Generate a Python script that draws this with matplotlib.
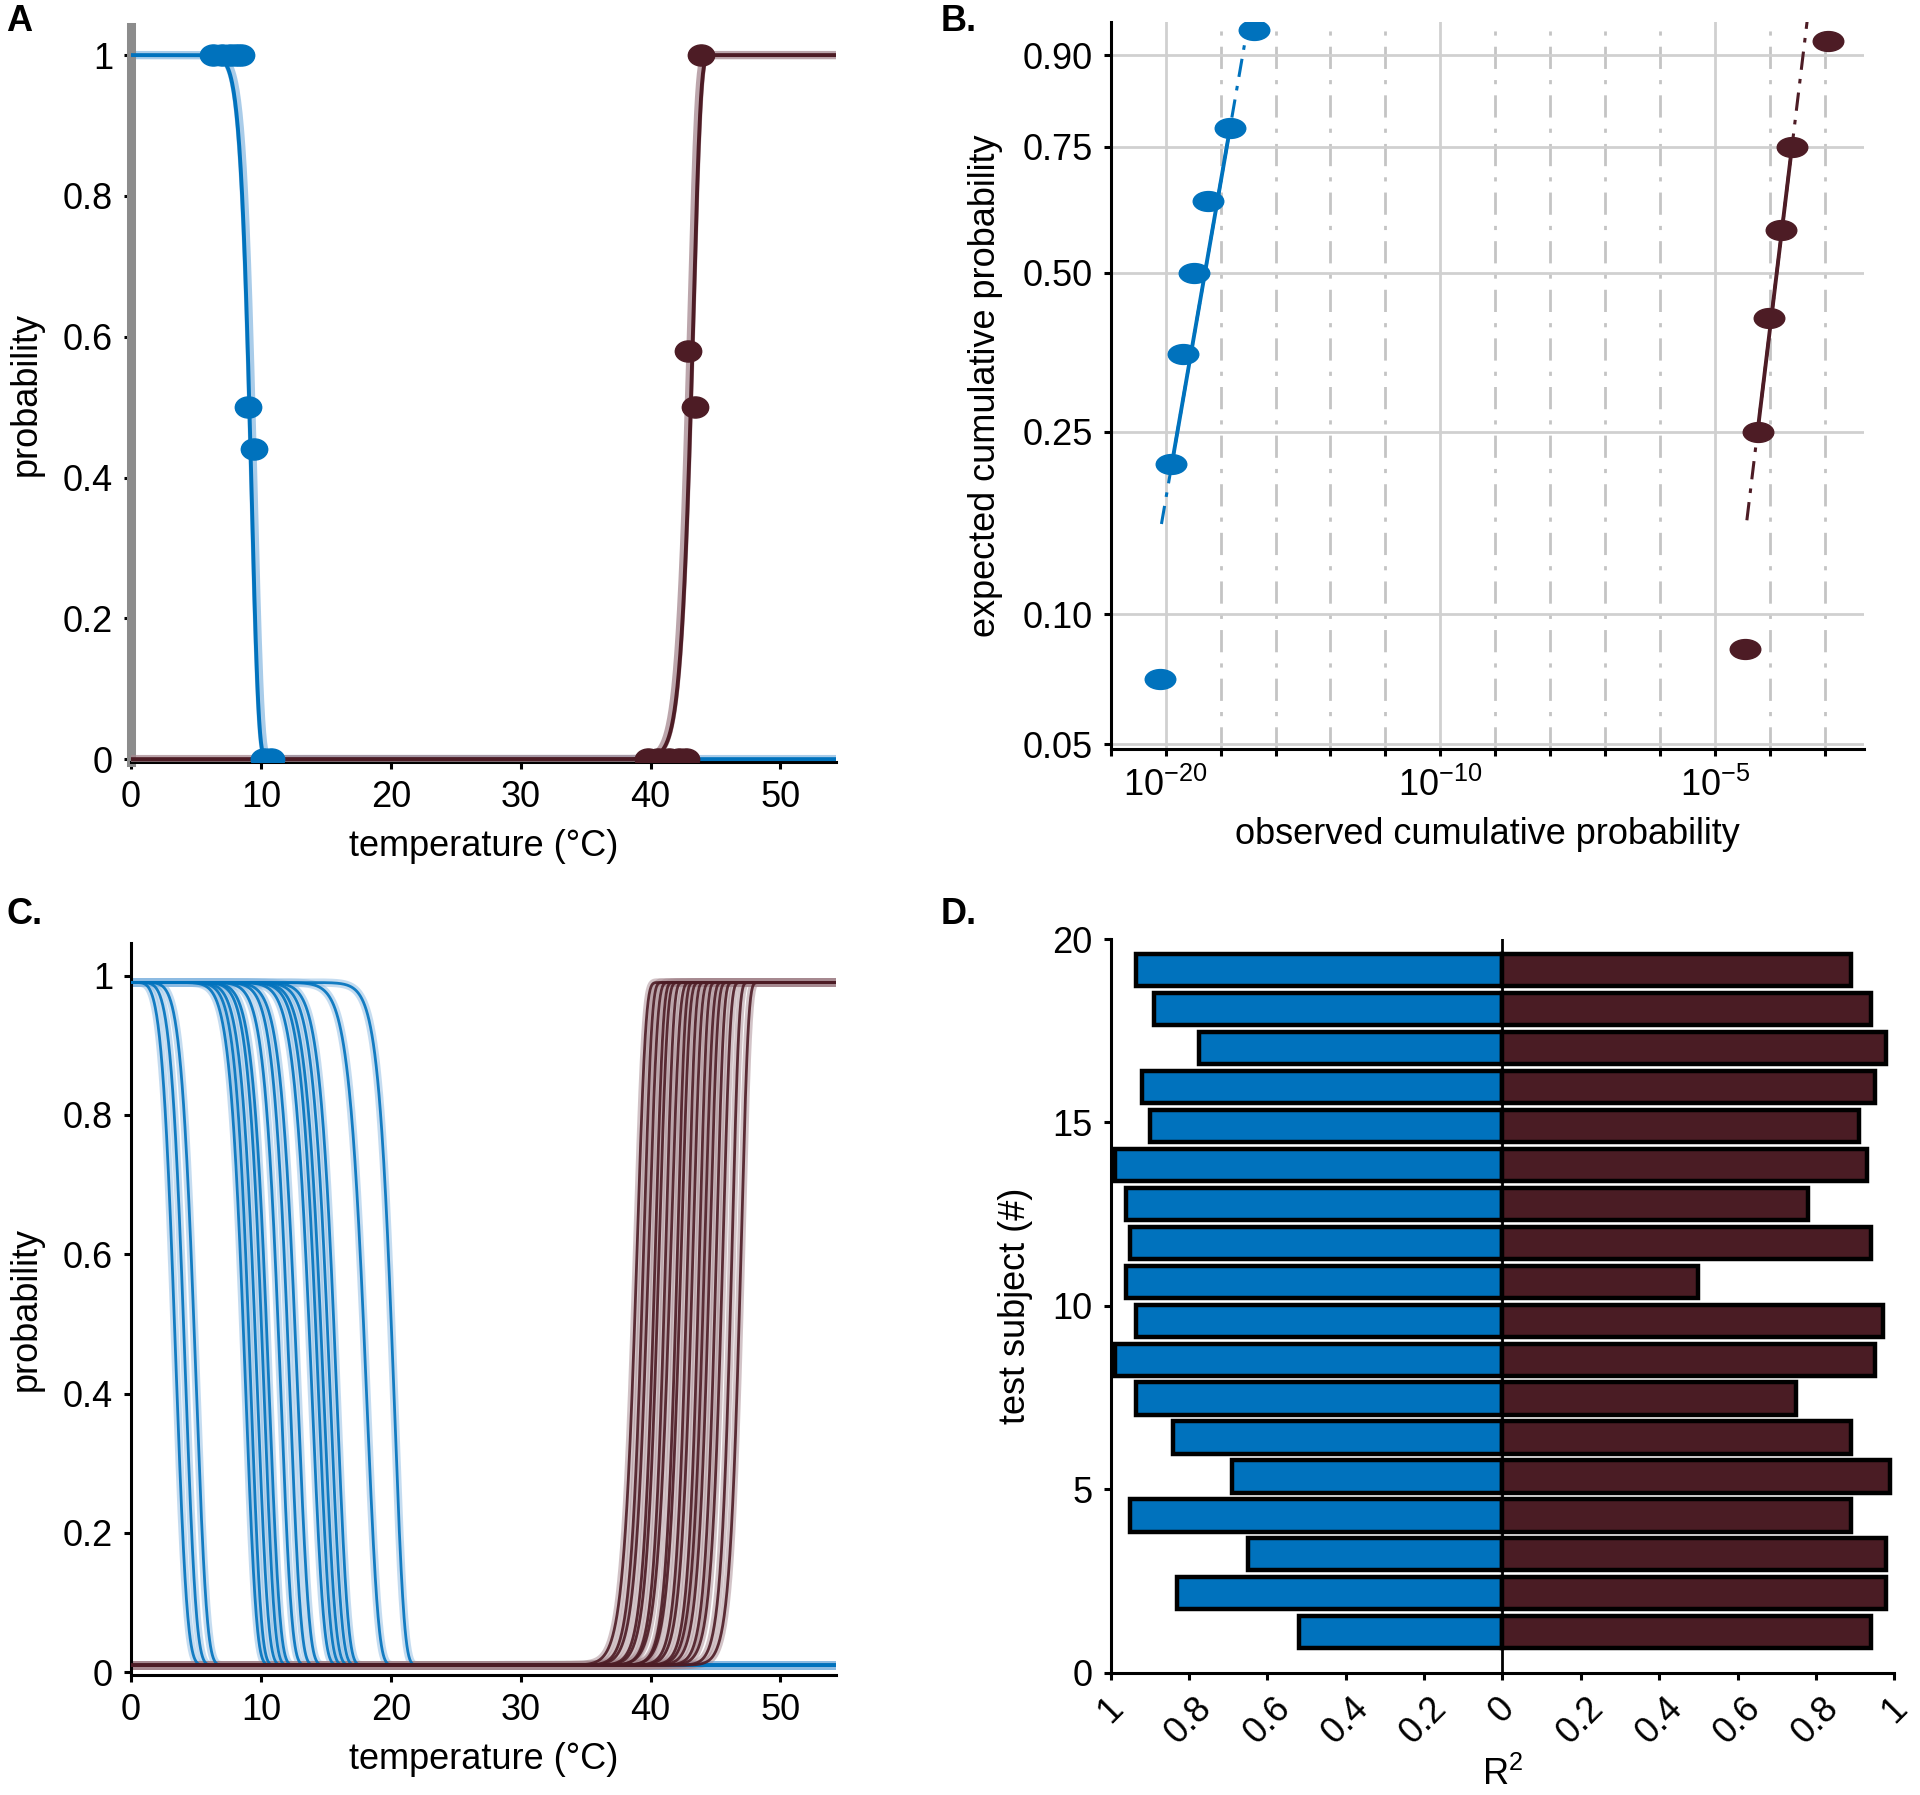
import numpy as np
import matplotlib
matplotlib.use('Agg')
import matplotlib.pyplot as plt
from matplotlib.path import Path
from matplotlib.transforms import Affine2D

plt.rcParams['font.family'] = ['Liberation Sans', 'DejaVu Sans']
plt.rcParams['font.size'] = 26
plt.rcParams['mathtext.fontset'] = 'custom'
plt.rcParams['mathtext.rm'] = 'Liberation Sans'
plt.rcParams['mathtext.it'] = 'Liberation Sans:italic'
plt.rcParams['axes.linewidth'] = 2.2
plt.rcParams['xtick.major.width'] = 2.2
plt.rcParams['ytick.major.width'] = 2.2
plt.rcParams['xtick.major.size'] = 5
plt.rcParams['ytick.major.size'] = 5

cold = '#0072BD'
hot = '#4D1C25'
cold_light = '#8dbbe2'
hot_light = '#a68990'

#%% data
# A: single subject, proportions and fitted weibull (scale, shape)
tempA_cold = [6.3, 7.0, 7.6, 8.1, 8.5, 9.0, 9.5, 10.2, 10.8]
probA_cold = [1, 1, 1, 1, 1, 0.5, 0.44, 0, 0]
tempA_hot = [39.8, 40.6, 41.4, 42.2, 42.7, 42.9, 43.4, 43.9]
probA_hot = [0, 0, 0, 0, 0, 0.58, 0.5, 1]
fitA_cold = (9.3, 18)
fitA_hot = (43.3, 77)

# B: probability plot (observed as log10 exponent)
obsB_cold = [-20.2, -19.8, -19.35, -18.95, -18.45, -17.65, -16.8]
probB_cold = [0.071, 0.214, 0.357, 0.5, 0.643, 0.786, 0.929]
obsB_hot = [1.1, 1.55, 1.95, 2.4, 2.8, 4.1]
probB_hot = [0.083, 0.25, 0.417, 0.583, 0.75, 0.917]
lineB_cold = ([-20.15, -17.03], [0.159, 0.93], [0.214, 0.786])
lineB_hot = ([1.15, 3.34], [0.162, 0.937], [0.25, 0.75])
ytickB = [0.05, 0.10, 0.25, 0.50, 0.75, 0.90]
xtickB_labels = ['$10^{-20}$', '$10^{-10}$', '$10^{-5}$']

# C: per-subject fitted weibull parameters
cold_scale = [3.6, 4.3, 5.1, 8.9, 9.3, 9.8, 10.3, 10.7, 11.6, 12.3, 12.9, 14.0, 14.5, 14.9, 15.4, 15.9, 18.2, 20.3]
cold_shape = [5, 6, 7, 12, 13, 13, 14, 14, 15, 16, 16, 17, 18, 18, 19, 20, 22, 28]
hot_scale = [39.0, 39.5, 39.9, 40.4, 40.7, 41.2, 41.6, 42.1, 42.4, 42.9, 43.3, 43.8, 44.2, 44.6, 45.1, 45.6, 46.3, 47.0]
hot_shape = [62, 68, 65, 72, 70, 76, 68, 80, 74, 82, 78, 85, 80, 82, 88, 85, 92, 90]

# D: goodness of fit per subject (bottom to top)
r2_cold = [0.52, 0.83, 0.65, 0.95, 0.69, 0.84, 0.935, 0.99, 0.935, 0.96, 0.95, 0.96, 0.99, 0.90, 0.92, 0.775, 0.89, 0.935]
r2_hot = [0.94, 0.98, 0.98, 0.89, 0.99, 0.89, 0.75, 0.95, 0.97, 0.50, 0.94, 0.78, 0.93, 0.91, 0.95, 0.98, 0.94, 0.89]

#%% helpers
def weib_cold(x, lam, k):
    return np.exp(-(x / lam) ** k)

def weib_hot(x, lam, k):
    return 1 - np.exp(-(x / lam) ** k)

def wtrans(p):
    p = np.asarray(p, dtype=float)
    return np.log(-np.log(1 - p))

def style_axes(ax):
    ax.spines['top'].set_visible(False)
    ax.spines['right'].set_visible(False)
    ax.tick_params(direction='out', pad=8)

ell_A = Path.unit_circle().transformed(Affine2D().scale(1.0, 0.8))
ell_B = Path.unit_circle().transformed(Affine2D().scale(1.0, 0.65))

W, H = 1568, 1466
def pos(l, r, t, b):
    return [l / W, 1 - b / H, (r - l) / W, (b - t) / H]

fig = plt.figure(figsize=(19.2, 17.95), dpi=100)
xs = np.linspace(0.01, 54.5, 1500)

#%% A
axA = fig.add_axes(pos(107, 683, 22, 622))
axA.plot(xs + 0.15, weib_cold(xs, *fitA_cold), color=cold_light, lw=6, alpha=0.75, zorder=2)
axA.plot(xs, weib_cold(xs, *fitA_cold), color=cold, lw=2.8, zorder=3)
axA.plot(xs - 0.15, weib_hot(xs, *fitA_hot), color=hot_light, lw=6, alpha=0.75, zorder=4)
axA.plot(xs, weib_hot(xs, *fitA_hot), color=hot, lw=2.8, zorder=5)
axA.plot(tempA_cold, probA_cold, ls='none', marker=ell_A, ms=19, color=cold, zorder=6)
axA.plot(tempA_hot, probA_hot, ls='none', marker=ell_A, ms=19, color=hot, zorder=6)
axA.set_xlim(0, 54.3)
axA.set_ylim(-0.0035, 1.04)
axA.set_xticks([0, 10, 20, 30, 40, 50])
axA.set_yticks([0, 0.2, 0.4, 0.6, 0.8, 1])
axA.set_yticklabels(['0', '0.2', '0.4', '0.6', '0.8', '1'])
style_axes(axA)
axA.spines['left'].set_color('#8c8c8c')
axA.spines['left'].set_linewidth(6.5)
axA.set_xlabel('temperature (°C)', labelpad=10)
axA.set_ylabel('probability', labelpad=14)

#%% B
axB = fig.add_axes(pos(907, 1522, 18, 612))
for xv in range(-20, 6, 2):
    if xv % 10 == 0:
        axB.axvline(xv, color='#d0d0d0', lw=2, zorder=0)
    else:
        axB.axvline(xv, color='#c4c4c4', lw=2, ls=(0, (8, 4, 1.5, 4)), zorder=0)
for yv in ytickB:
    axB.axhline(wtrans(yv), color='#d0d0d0', lw=2, zorder=0)

for obs, prob, line, col in [(obsB_cold, probB_cold, lineB_cold, cold),
                             (obsB_hot, probB_hot, lineB_hot, hot)]:
    lx, lp, solid = line
    lw_ = wtrans(lp)
    sw = wtrans(solid)
    sx = np.interp(sw, lw_, lx)
    axB.plot(lx, lw_, color=col, lw=2.2, ls=(0, (6, 3, 1.5, 3)), zorder=2)
    axB.plot(sx, sw, color=col, lw=2.8, zorder=3)
    axB.plot(obs, wtrans(prob), ls='none', marker=ell_B, ms=22, color=col, zorder=4)

axB.set_xlim(-22, 5.4)
axB.set_ylim(-2.997, 1.016)
axB.set_xticks(list(range(-22, 6, 2)))
axB.set_xticklabels(['' if v not in (-20, -10, 0) else
                     xtickB_labels[[-20, -10, 0].index(v)] for v in range(-22, 6, 2)])
axB.set_yticks(wtrans(ytickB))
axB.set_yticklabels(['%.2f' % v for v in ytickB])
style_axes(axB)
axB.set_xlabel('observed cumulative probability', labelpad=10)
axB.set_ylabel('expected cumulative probability', labelpad=14)

#%% C
axC = fig.add_axes(pos(107, 683, 770, 1368))
floorC = 0.01
for lam, k in zip(cold_scale, cold_shape):
    yv = floorC + (1 - 2 * floorC) * weib_cold(xs, lam, k)
    axC.plot(xs, yv, color=cold_light, lw=6, alpha=0.5, zorder=2)
    axC.plot(xs, yv, color=cold, lw=2.0, alpha=0.9, zorder=3)
for lam, k in zip(hot_scale, hot_shape):
    yv = floorC + (1 - 2 * floorC) * weib_hot(xs, lam, k)
    axC.plot(xs, yv, color=hot_light, lw=6, alpha=0.5, zorder=2)
    axC.plot(xs, yv, color=hot, lw=2.0, alpha=0.9, zorder=3)
axC.set_xlim(0, 54.3)
axC.set_ylim(-0.004, 1.047)
axC.set_xticks([0, 10, 20, 30, 40, 50])
axC.set_yticks([0, 0.2, 0.4, 0.6, 0.8, 1])
axC.set_yticklabels(['0', '0.2', '0.4', '0.6', '0.8', '1'])
style_axes(axC)
axC.set_xlabel('temperature (°C)', labelpad=10)
axC.set_ylabel('probability', labelpad=14)

#%% D
axD = fig.add_axes(pos(907, 1547, 767, 1366))
ypos = np.linspace(1.1, 19.15, len(r2_cold))
axD.barh(ypos, -np.array(r2_cold), height=0.88, color=cold, edgecolor='black', linewidth=3.2, zorder=2)
axD.barh(ypos, r2_hot, height=0.88, color='#4A1C24', edgecolor='black', linewidth=3.2, zorder=2)
axD.axvline(0, color='black', lw=2, zorder=3)
axD.set_xlim(-1, 1)
axD.set_ylim(0, 20)
xt = np.round(np.arange(-1, 1.01, 0.2), 1)
axD.set_xticks(xt)
axD.set_xticklabels(['%g' % abs(v) if abs(v) > 1e-9 else '0' for v in xt],
                    rotation=45, ha='center')
axD.set_yticks([0, 5, 10, 15, 20])
style_axes(axD)
axD.set_xlabel('R$^{2}$', labelpad=4)
axD.set_ylabel('test subject (#)', labelpad=14)

#%% panel letters
fig.text(5 / W, 1 - 3 / H, 'A', fontsize=26, fontweight='bold', va='top', ha='left')
fig.text(768 / W, 1 - 3 / H, 'B.', fontsize=26, fontweight='bold', va='top', ha='left')
fig.text(5 / W, 1 - 733 / H, 'C.', fontsize=26, fontweight='bold', va='top', ha='left')
fig.text(768 / W, 1 - 733 / H, 'D.', fontsize=26, fontweight='bold', va='top', ha='left')

fig.savefig('out.png', dpi=100)
